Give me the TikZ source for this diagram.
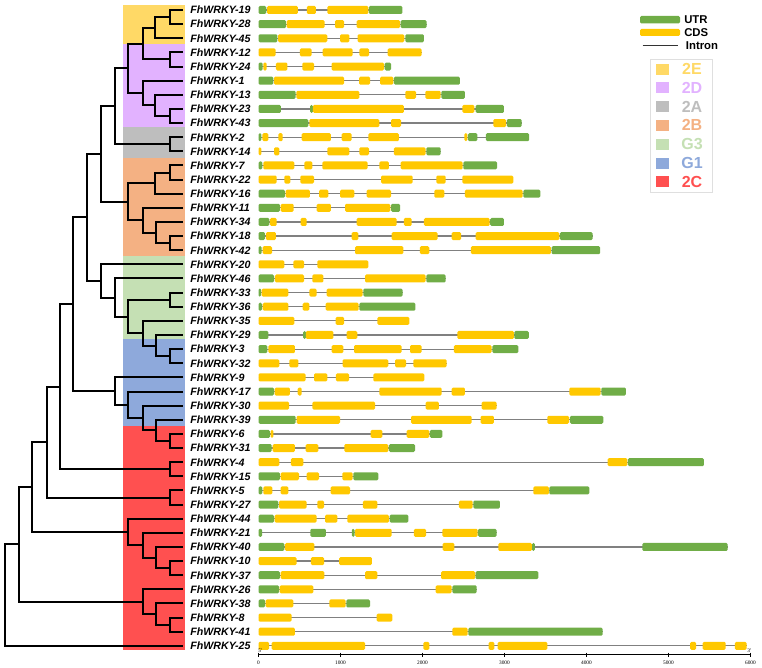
\documentclass[tikz,border=0pt]{standalone}
\usepackage{fontspec}
\setmainfont{Liberation Serif}
\setsansfont{Liberation Sans}
\usepackage{tikz}

\definecolor{utrgreen}{RGB}{112,173,71}
\definecolor{cdsyellow}{RGB}{255,200,0}
\definecolor{col2E}{RGB}{255,217,102}
\definecolor{col2D}{RGB}{226,178,255}
\definecolor{col2A}{RGB}{190,190,190}
\definecolor{col2B}{RGB}{244,177,131}
\definecolor{colG3}{RGB}{197,224,180}
\definecolor{colG1}{RGB}{142,169,219}
\definecolor{col2C}{RGB}{255,80,80}

\begin{document}
\begin{tikzpicture}
  [x=0.75pt,y=-0.75pt,
   branch/.style={line width=1.5pt},
   gene/.style={font=\sffamily\bfseries\itshape\fontsize{8}{9}\selectfont,inner sep=0pt,anchor=west},
   utr/.style={fill=utrgreen,rounded corners=1pt},
   cds/.style={fill=cdsyellow,rounded corners=1pt},
   intron/.style={draw=gray,line width=0.9pt},
   legtext/.style={font=\sffamily\bfseries\fontsize{8.5}{9}\selectfont,inner sep=0pt,anchor=west},
   grptext/.style={font=\sffamily\bfseries\fontsize{12}{12}\selectfont,inner sep=0pt},
   ticklabel/.style={font=\fontsize{4}{4}\selectfont,inner sep=0pt}]

  \path[use as bounding box] (0,0) rectangle (762,667);

  % subfamily bands
  \fill[col2E] (123,5) rectangle (185,44.5);
  \fill[col2D] (123,44.5) rectangle (185,127);
  \fill[col2A] (123,127) rectangle (185,158.3);
  \fill[col2B] (123,158.3) rectangle (185,255.5);
  \fill[colG3] (123,255.5) rectangle (185,338.5);
  \fill[colG1] (123,338.5) rectangle (185,426);
  \fill[col2C] (123,426) rectangle (185,649.5);

  % genes: tip, name and exon/intron structure
  \foreach \g/\len/\parts [count=\i from 0] in {
    19/1755/{utr/0/95,cds/105/480,cds/590/700,cds/840/1340,utr/1345/1755},
    28/2050/{utr/0/335,cds/343/807,cds/933/1043,cds/1197/1726,utr/1734/2050},
    45/2018/{utr/0/230,cds/238/839,cds/994/1108,cds/1209/1778,utr/1791/2018},
    12/1990/{cds/0/209,cds/506/648,cds/782/1148,cds/1230/1348,cds/1575/1990},
    24/1616/{utr/0/51,cds/59/100,cds/213/352,cds/534/677,cds/892/1531,utr/1539/1616},
    1/2457/{utr/0/181,cds/189/1043,cds/1226/1360,cds/1482/1644,utr/1652/2457},
    13/2518/{utr/0/453,cds/461/1230,cds/1791/1921,cds/2035/2222,utr/2230/2518},
    23/2994/{utr/0/274,utr/630/664,cds/664/1774,cds/2486/2632,utr/2648/2994},
    43/3210/{utr/0/608,cds/620/1474,cds/1616/1738,cds/2864/3020,utr/3028/3210},
    2/3302/{utr/0/35,cds/47/120,cds/242/295,cds/526/884,cds/1014/1136,cds/1339/1713,cds/2512/2547,utr/2555/2669,utr/2774/3302},
    14/2222/{cds/0/35,cds/189/254,cds/839/1108,cds/1230/1348,cds/1652/2038,utr/2046/2222},
    7/2909/{utr/0/47,cds/59/437,cds/559/656,cds/778/1331,cds/1473/1591,cds/1734/2490,utr/2498/2909},
    22/3108/{cds/0/222,cds/315/388,cds/510/677,cds/1494/1880,cds/2169/2283,cds/2486/3108},
    16/3437/{utr/0/323,cds/331/628,cds/738/852,cds/994/1169,cds/1319/1616,cds/2144/2266,cds/2518/3222,utr/3230/3437},
    11/1726/{utr/0/262,cds/270/429,cds/709/884,cds/1055/1608,utr/1616/1726},
    34/2994/{utr/0/132,cds/140/222,cds/514/587,cds/1197/1685,cds/1774/1868,cds/2018/2820,utr/2826/2994},
    18/4075/{utr/0/79,cds/91/213,cds/1136/1217,cds/1624/2185,cds/2356/2470,cds/2649/3668,utr/3676/4075},
    42/4167/{utr/0/39,cds/51/165,cds/1177/1766,cds/1969/2083,cds/2591/3567,utr/3575/4167},
    20/1339/{cds/0/315,cds/425/555,cds/717/1339},
    46/2282/{utr/0/189,cds/201/555,cds/657/791,cds/1299/2038,utr/2046/2282},
    33/1758/{utr/0/33,cds/39/364,cds/620/709,cds/831/1270,utr/1278/1758},
    36/1913/{utr/0/43,cds/51/364,cds/539/620,cds/819/1222,utr/1230/1913},
    35/1839/{cds/0/437,cds/941/1043,cds/1449/1839},
    29/3296/{utr/0/120,utr/545/578,cds/578/913,cds/1075/1205,cds/2425/3116,utr/3120/3296},
    3/3169/{utr/0/108,cds/120/445,cds/892/1034,cds/1165/1746,cds/1848/1990,cds/2384/2843,utr/2852/3169},
    32/2295/{cds/0/254,cds/376/486,cds/1026/1583,cds/1665/1799,cds/1888/2295},
    9/2022/{cds/0/575,cds/677/839,cds/945/1104,cds/1400/2022},
    17/4482/{utr/0/189,cds/197/384,cds/478/526,cds/1474/2234,cds/2356/2518,cds/3791/4173,utr/4181/4482},
    30/2904/{cds/0/372,cds/657/1421,cds/2039/2201,cds/2722/2904},
    39/4205/{utr/0/453,cds/465/994,cds/1860/2600,cds/2709/2872,cds/3522/3787,utr/3799/4205},
    6/2242/{utr/0/140,cds/148/181,cds/1368/1510,cds/1807/2083,utr/2091/2242},
    31/1909/{utr/0/161,cds/173/445,cds/575/730,cds/1047/1583,utr/1591/1909},
    4/5433/{cds/0/254,cds/396/547,cds/4258/4498,utr/4506/5433},
    15/1461/{utr/0/262,cds/270/494,cds/587/738,cds/1022/1148,utr/1156/1461},
    5/4035/{utr/0/47,cds/59/169,cds/270/364,cds/880/1116,cds/3352/3543,utr/3547/4035},
    27/2945/{utr/0/242,cds/250/587,cds/717/799,cds/1274/1449,cds/2445/2612,utr/2620/2945},
    44/1827/{utr/0/189,cds/197/709,cds/811/961,cds/1083/1591,utr/1600/1827},
    21/2904/{utr/0/45,utr/632/823,utr/1138/1171,cds/1177/1624,cds/1896/2043,cds/2242/2673,utr/2677/2904},
    40/5722/{utr/0/315,cds/323/681,cds/2246/2388,cds/2925/3335,utr/3337/3370,utr/4681/5722},
    10/1384/{cds/0/465,cds/640/799,cds/984/1384},
    37/3413/{utr/0/262,cds/270/803,cds/1299/1449,cds/2226/2644,utr/2648/3413},
    26/2661/{utr/0/250,cds/258/669,cds/2161/2356,utr/2364/2661},
    38/1360/{utr/0/80,cds/87/425,cds/864/1063,utr/1071/1360},
    8/1632/{cds/0/404,cds/1441/1632},
    41/4197/{cds/0/445,cds/2364/2551,utr/2559/4197},
    25/5954/{cds/0/128,cds/160/1299,cds/2010/2083,cds/2807/2876,cds/2917/3522,cds/5264/5337,cds/5417/5698,cds/5811/5954}}
  {
    \pgfmathsetmacro\y{10+14.13*\i}
    \coordinate (t\g) at (183,\y);
    \node[gene] (g\g) at (190,\y) {FhWRKY-\g};
    \begin{scope}[shift={(258.5,\y)},x=0.0615pt]
      \draw[intron] (0,0) -- (\len,0);
      \foreach \kind/\st/\en in \parts
        \path[\kind] (\st,-4) rectangle (\en,4);
    \end{scope}
  }

  % inner nodes of the tree
  \coordinate (a1) at (170,17.1);
  \coordinate (a2) at (155,27.7);
  \coordinate (a3) at (170,59.5);
  \coordinate (a4) at (142.7,43.6);
  \coordinate (a5) at (170,116);
  \coordinate (a6) at (155,105.4);
  \coordinate (a7) at (142.7,93);
  \coordinate (a8) at (128.3,68.3);
  \coordinate (a9) at (170,144.2);
  \coordinate (a10) at (115,106.3);
  \coordinate (b1) at (170,172.5);
  \coordinate (b2) at (155,183.1);
  \coordinate (b3) at (170,243.2);
  \coordinate (b4) at (155.7,232.6);
  \coordinate (b5) at (142.7,220.2);
  \coordinate (b6) at (128.3,201.6);
  \coordinate (b7) at (101,154);
  \coordinate (c1) at (170,299.7);
  \coordinate (c2) at (170,356.2);
  \coordinate (c3) at (155.7,345.6);
  \coordinate (c4) at (142.7,333.2);
  \coordinate (c5) at (128.3,316.5);
  \coordinate (c6) at (115,297.5);
  \coordinate (c7) at (101,280.9);
  \coordinate (c8) at (87.3,217.4);
  \coordinate (d1) at (170,441);
  \coordinate (d2) at (155.7,430.4);
  \coordinate (d3) at (142.7,418);
  \coordinate (d4) at (128.3,404.8);
  \coordinate (d5) at (115,391.1);
  \coordinate (d6) at (73.3,304.3);
  \coordinate (e1) at (170,469.2);
  \coordinate (e2) at (60,386.8);
  \coordinate (e3) at (170,497.5);
  \coordinate (e4) at (46.7,442.1);
  \coordinate (f1) at (170,568.1);
  \coordinate (f2) at (155.7,557.5);
  \coordinate (f3) at (142.7,545.2);
  \coordinate (f4) at (128.3,531.9);
  \coordinate (f5) at (32.3,487);
  \coordinate (h1) at (170,624.7);
  \coordinate (h2) at (155.7,614.1);
  \coordinate (h3) at (142.7,601.7);
  \coordinate (h4) at (19,544.4);
  \coordinate (root) at (5,595.1);

  \foreach \from/\to in {a1/t19,a1/t28,a2/a1,a2/t45,a3/t12,a3/t24,a4/a2,a4/a3,
      a5/t23,a5/t43,a6/t13,a6/a5,a7/t1,a7/a6,a8/a4,a8/a7,a9/t2,a9/t14,a10/a8,a10/a9,
      b1/t7,b1/t22,b2/b1,b2/t16,b3/t18,b3/t42,b4/t34,b4/b3,b5/t11,b5/b4,b6/b2,b6/b5,b7/a10,b7/b6,
      c1/t33,c1/t36,c2/t3,c2/t32,c3/t29,c3/c2,c4/t35,c4/c3,c5/c1,c5/c4,c6/t46,c6/c5,c7/t20,c7/c6,c8/b7,c8/c7,
      d1/t6,d1/t31,d2/t39,d2/d1,d3/t30,d3/d2,d4/t17,d4/d3,d5/t9,d5/d4,d6/c8,d6/d5,
      e1/t4,e1/t15,e2/d6,e2/e1,e3/t5,e3/t27,e4/e2,e4/e3,
      f1/t10,f1/t37,f2/t40,f2/f1,f3/t21,f3/f2,f4/t44,f4/f3,f5/e4,f5/f4,
      h1/t8,h1/t41,h2/t38,h2/h1,h3/t26,h3/h2,h4/f5,h4/h3,root/h4,root/t25}
    \draw[branch] (\from) |- (\to);

  % scale bar
  \begin{scope}[shift={(258.5,654.5)},x=0.0615pt]
    \draw[line width=0.6pt] (0,0) -- (6000,0);
    \foreach \tk in {0,1000,...,6000}
    {
      \draw[line width=0.5pt] (\tk,-2) -- (\tk,2);
      \node[ticklabel] (tk\tk) at (\tk,8) {\tk};
    }
  \end{scope}
  \node[ticklabel] (five) at (260.5,650.5) {5'};
  \node[ticklabel] (three) at (749.5,650.5) {3'};

  % legend
  \path[utr] (640,16) rectangle (680,23.5);
  \node[legtext] (lutr) at (684,19.5) {UTR};
  \path[cds] (640,29) rectangle (680,36);
  \node[legtext] (lcds) at (684,32.5) {CDS};
  \draw[line width=0.9pt,black!80] (642.7,45.5) -- (678.3,45.5);
  \node[legtext] (lintron) at (685.7,45.5) {Intron};

  \draw[gray!25,fill=white] (650.7,59) rectangle (712.3,192.7);
  \foreach \grp/\col [count=\k from 0] in {2E/col2E,2D/col2D,2A/col2A,2B/col2B,G3/colG3,G1/colG1,2C/col2C}
  {
    \pgfmathsetmacro\ly{69+18.8*\k}
    \fill[\col] (656,\ly-5.5) rectangle (668.5,\ly+5.5);
    \node[grptext,text=\col] (leg\grp) at (692,\ly) {\grp};
  }
\end{tikzpicture}
\end{document}
